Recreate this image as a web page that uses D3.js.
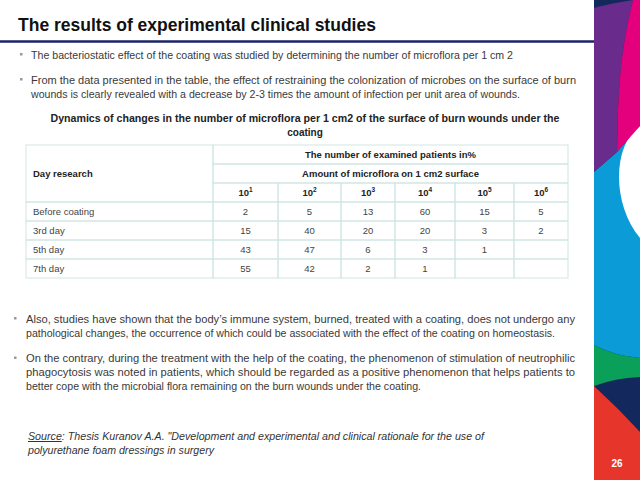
<!DOCTYPE html>
<html>
<head>
<meta charset="utf-8">
<script src="https://cdn.jsdelivr.net/npm/d3@7"></script>
<style>
  body { margin: 0; background: #fff; }
  svg { display: block; font-family: "Liberation Sans", Arial, sans-serif; }
</style>
</head>
<body>
<div id="slide"></div>
<script>
// table data
const rowLabels = ['Before coating', '3rd day', '5th day', '7th day'];
const exponents = [1, 2, 3, 4, 5, 6];
const beforeCoating = [2, 5, 13, 60, 15, 5];
const day3 = [15, 40, 20, 20, 3, 2];
const day5 = [43, 47, 6, 3, 1, null];
const day7 = [55, 42, 2, 1, null, null];
const rowValues = [beforeCoating, day3, day5, day7];

const title = 'The results of experimental clinical studies';
const caption = ['Dynamics of changes in the number of microflora per 1 cm2 of the surface of burn wounds under the', 'coating'];
const headTop = 'The number of examined patients in%';
const headSub = 'Amount of microflora on 1 cm2 surface';
const firstColHead = 'Day research';

const upperText = [
    ['The bacteriostatic effect of the coating was studied by determining the number of microflora per 1 cm 2'],
    ['From the data presented in the table, the effect of restraining the colonization of microbes on the surface of burn',
     'wounds is clearly revealed with a decrease by 2-3 times the amount of infection per unit area of wounds.']
];
const lowerText = [
    ['Also, studies have shown that the body\u2019s immune system, burned, treated with a coating, does not undergo any',
     'pathological changes, the occurrence of which could be associated with the effect of the coating on homeostasis.'],
    ['On the contrary, during the treatment with the help of the coating, the phenomenon of stimulation of neutrophilic',
     'phagocytosis was noted in patients, which should be regarded as a positive phenomenon that helps patients to',
     'better cope with the microbial flora remaining on the burn wounds under the coating.']
];
const sourceText = ['Thesis Kuranov A.A. "Development and experimental and clinical rationale for the use of',
    'polyurethane foam dressings in surgery'];
const pageNumber = '26';

const W = 640, H = 480;
const svg = d3.select('#slide').append('svg').attr('width', W).attr('height', H);

// title + rule
svg.append('text').attr('x', 18).attr('y', 31)
    .attr('font-size', 17.5).attr('font-weight', 'bold').attr('fill', '#111')
    .text(title);
svg.append('line').attr('x1', 0).attr('x2', 594).attr('y1', 41.5).attr('y2', 41.5)
    .attr('stroke', '#1c2466').attr('stroke-width', 2.5);

// paragraph helper: lines justified to a given width via textLength
function paragraph(lines, x, y0, widths, bulletX) {
    svg.append('rect').attr('x', bulletX).attr('y', y0 - 5.5).attr('width', 2.5).attr('height', 2.5).attr('fill', '#999');
    lines.forEach((t, i) => {
        svg.append('text').attr('x', x).attr('y', y0 + i * 14.2)
            .attr('font-size', 10).attr('fill', '#3a3a3a')
            .attr('textLength', widths[i]).attr('lengthAdjust', 'spacingAndGlyphs')
            .text(t);
    });
}
paragraph(upperText[0], 31, 58.5, [482], 20);
paragraph(upperText[1], 31, 83.5, [545, 489], 20);
paragraph(lowerText[0], 26, 322.5, [549, 529], 14);
paragraph(lowerText[1], 26, 362, [549, 549, 395], 14);

// caption
caption.forEach((t, i) => {
    svg.append('text').attr('x', 305).attr('y', 122 + i * 14)
        .attr('text-anchor', 'middle').attr('font-size', 10).attr('font-weight', 'bold').attr('fill', '#222')
        .attr('textLength', i === 0 ? 509 : null).attr('lengthAdjust', 'spacingAndGlyphs')
        .text(t);
});

// table
const colEdges = [26, 213, 278, 341, 395, 455, 514, 568];
const y = d3.scaleBand().domain(d3.range(7)).range([145, 278]).padding(0);
const colLeft = e => colEdges[exponents.indexOf(e) + 1];
const colRight = e => colEdges[exponents.indexOf(e) + 2];
const colMid = e => (colLeft(e) + colRight(e)) / 2;
const stroke = '#cfe5e3';
const tbl = svg.append('g');

function cell(x0, x1, r0, r1) {
    tbl.append('rect').attr('x', x0).attr('y', y(r0)).attr('width', x1 - x0)
        .attr('height', y(r1) + y.bandwidth() - y(r0))
        .attr('fill', 'none').attr('stroke', stroke).attr('stroke-width', 1);
}
cell(colEdges[0], colEdges[1], 0, 2);
cell(colEdges[1], colEdges[7], 0, 0);
cell(colEdges[1], colEdges[7], 1, 1);
exponents.forEach(e => cell(colLeft(e), colRight(e), 2, 2));
rowLabels.forEach((_, r) => {
    cell(colEdges[0], colEdges[1], r + 3, r + 3);
    exponents.forEach(e => cell(colLeft(e), colRight(e), r + 3, r + 3));
});

const mid = r => y(r) + y.bandwidth() / 2 + 3.5;
tbl.append('text').attr('x', 33).attr('y', y(1) + y.bandwidth() / 2 + 3.5)
    .attr('font-size', 9.5).attr('font-weight', 'bold').attr('fill', '#222').text(firstColHead);
const headMid = (colEdges[1] + colEdges[7]) / 2;
tbl.append('text').attr('x', headMid).attr('y', mid(0)).attr('text-anchor', 'middle')
    .attr('font-size', 9.5).attr('font-weight', 'bold').attr('fill', '#222').text(headTop);
tbl.append('text').attr('x', headMid).attr('y', mid(1)).attr('text-anchor', 'middle')
    .attr('font-size', 9.5).attr('font-weight', 'bold').attr('fill', '#222').text(headSub);
exponents.forEach(e => {
    const t = tbl.append('text').attr('x', colMid(e)).attr('y', mid(2)).attr('text-anchor', 'middle')
        .attr('font-size', 9.5).attr('font-weight', 'bold').attr('fill', '#222');
    t.append('tspan').text('10');
    t.append('tspan').attr('font-size', 6.5).attr('dy', -4).text(e);
});

rowLabels.forEach((lab, r) => {
    tbl.append('text').attr('x', 33).attr('y', mid(r + 3))
        .attr('font-size', 9.5).attr('fill', '#444').text(lab);
    rowValues[r].forEach((v, i) => {
        if (v == null) return;
        tbl.append('text').attr('x', colMid(exponents[i])).attr('y', mid(r + 3))
            .attr('text-anchor', 'middle').attr('font-size', 9.5).attr('fill', '#444').text(v);
    });
});

// source
const src = svg.append('g').attr('font-size', 10).attr('font-style', 'italic').attr('fill', '#333');
const s1 = src.append('text').attr('x', 28).attr('y', 440)
    .attr('textLength', 456).attr('lengthAdjust', 'spacingAndGlyphs');
s1.append('tspan').attr('text-decoration', 'underline').text('Source');
s1.append('tspan').text(': ' + sourceText[0]);
src.append('text').attr('x', 28).attr('y', 454)
    .attr('textLength', 186).attr('lengthAdjust', 'spacingAndGlyphs').text(sourceText[1]);

// decorative stripe on the right
const deco = svg.append('g');
deco.append('rect').attr('x', 594).attr('y', 0).attr('width', 46).attr('height', H).attr('fill', '#13285c');
deco.append('path').attr('fill', '#e6352b')
    .attr('d', 'M594,386 Q618,408 640,432 L640,480 L594,480 Z');
deco.append('path').attr('fill', '#0aa05a')
    .attr('d', 'M594,345 Q615,356 640,358 L640,377 Q615,378 594,386 Z');
deco.append('path').attr('fill', '#0b9bd7')
    .attr('d', 'M594,172 L617,152 L640,126 L640,358 Q615,356 594,345 Z');
deco.append('path').attr('fill', '#ffffff')
    .attr('d', 'M640,126 C612,145 612,205 640,238 Z');
deco.append('path').attr('fill', '#6a2c8c')
    .attr('d', 'M594,8 Q612,3 633,0 Q620,50 618,110 L617,152 L594,172 Z');
deco.append('path').attr('fill', '#e4007c')
    .attr('d', 'M633,0 L640,0 L640,126 L617,152 L618,110 Q620,50 633,0 Z');
deco.append('text').attr('x', 617).attr('y', 467).attr('text-anchor', 'middle')
    .attr('font-size', 10).attr('font-weight', 'bold').attr('fill', '#fff').text(pageNumber);
</script>
</body>
</html>
